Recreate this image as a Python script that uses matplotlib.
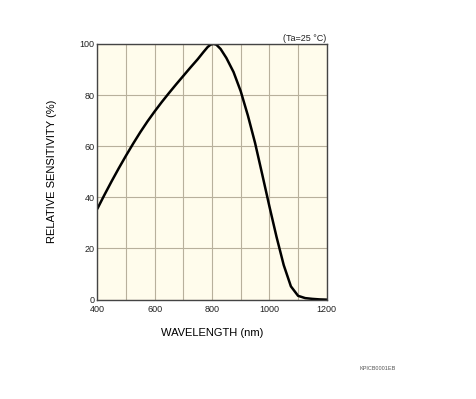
import matplotlib.pyplot as plt

plt.rcParams['font.family'] = ['Liberation Sans', 'DejaVu Sans']

# Dados
wavelength_nm = [400, 425, 450, 475, 500, 525, 550, 575, 600, 625, 650, 675, 700,
                 725, 750, 770, 785, 795, 805, 815, 830, 850, 875, 900, 925, 950, 975,
                 1000, 1025, 1050, 1075, 1100, 1125, 1150, 1175, 1200]
sensitivity = [35.5, 41, 46.3, 51.4, 56.3, 61, 65.5, 69.7, 73.6, 77.3, 80.8, 84.2, 87.5,
               90.8, 94, 96.8, 98.8, 99.7, 100, 99.7, 98, 94.5, 89, 81.5, 72, 61.3, 49,
               36.5, 24.5, 13.5, 5.2, 1.5, 0.6, 0.3, 0.1, 0]
xticks = [400, 600, 800, 1000, 1200]
yticks = [0, 20, 40, 60, 80, 100]

fig = plt.figure(figsize=(4.77, 3.99), dpi=100)
ax = fig.add_axes([0.204, 0.249, 0.481, 0.641])
ax.set_facecolor('#fffcec')

ax.plot(wavelength_nm, sensitivity, color='black', linewidth=1.8,
        solid_joinstyle='round', solid_capstyle='round')

ax.set_xlim(400, 1200)
ax.set_ylim(0, 100)
ax.set_xticks(range(400, 1201, 100))
ax.set_xticklabels([str(v) if v in xticks else '' for v in range(400, 1201, 100)])
ax.set_yticks(range(0, 101, 20))
ax.set_yticklabels([str(v) for v in yticks])
ax.grid(True, color='#b8b09c', linewidth=0.8)
ax.tick_params(length=0, labelsize=6.5, colors='#222222')
ax.tick_params(axis='x', pad=4)
ax.tick_params(axis='y', pad=2)
for s in ax.spines.values():
    s.set_color('#444444')
    s.set_linewidth(1.0)

ax.set_xlabel('WAVELENGTH (nm)', fontsize=8, labelpad=10)
ax.set_ylabel('RELATIVE SENSITIVITY (%)', fontsize=8, labelpad=16)
ax.text(1.0, 1.005, '(Ta=25 °C)', transform=ax.transAxes, ha='right', va='bottom',
        fontsize=6.5, color='#222222')
fig.text(0.83, 0.072, 'KPICB0001EB', fontsize=4, ha='right', color='#555555')

fig.savefig('out.png', dpi=100)
